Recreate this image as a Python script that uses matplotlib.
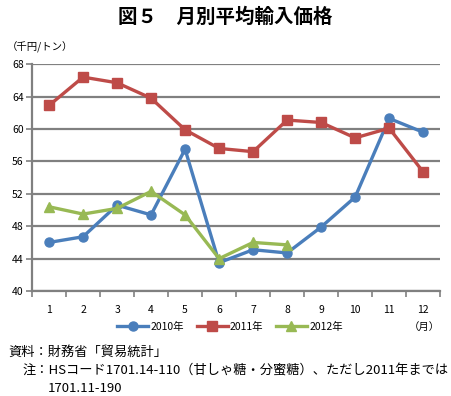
import matplotlib
matplotlib.use('Agg')
import matplotlib.pyplot as plt
import numpy as np

plt.rcParams['font.family'] = ['Noto Sans CJK JP', 'DejaVu Sans']

months = list(range(1, 13))
y2010 = [46.0, 46.7, 50.6, 49.4, 57.5, 43.5, 45.1, 44.7, 47.9, 51.6, 61.3, 59.6]
y2011 = [62.9, 66.4, 65.7, 63.8, 59.9, 57.6, 57.2, 61.1, 60.8, 58.9, 60.1, 54.7]
y2012 = [50.4, 49.5, 50.2, 52.3, 49.4, 44.0, 46.0, 45.7]
yticks = [40, 44, 48, 52, 56, 60, 64, 68]

grey = '#808080'

fig = plt.figure(figsize=(4.51, 3.96), dpi=100)
ax = fig.add_axes([0.071, 0.265, 0.905, 0.573])

ax.plot(months, y2010, color='#4A7EBB', lw=2.4, marker='o', ms=6.5, label='2010年')
ax.plot(months, y2011, color='#BE4B48', lw=2.4, marker='s', ms=6.5, label='2011年')
ax.plot(months[:len(y2012)], y2012, color='#98B954', lw=2.4, marker='^', ms=7, label='2012年')

ax.set_xlim(0.5, 12.5)
ax.set_ylim(40, 68)
ax.set_yticks(yticks)
ax.set_yticklabels([str(v) for v in yticks], fontsize=7.5)
ax.set_xticks(np.arange(0.5, 13, 1))
ax.set_xticklabels([])
ax.set_xticks(months, minor=True)
ax.set_xticklabels([str(m) for m in months], minor=True, fontsize=7.5)
ax.tick_params(axis='x', which='minor', length=0, pad=10)
ax.tick_params(axis='x', which='major', length=4, width=1.2, color=grey)
ax.tick_params(axis='y', length=4, width=1.2, color=grey, pad=2)

ax.grid(axis='y', color=grey, lw=1.6)
ax.set_axisbelow(True)
for s in ['top', 'right']:
    ax.spines[s].set_visible(False)
for s in ['left', 'bottom']:
    ax.spines[s].set_color(grey)
    ax.spines[s].set_linewidth(1.6)

fig.text(0.5, 0.957, '図５　月別平均輸入価格', ha='center', va='center', fontsize=14, fontweight='bold')
fig.text(0.015, 0.881, '（千円/トン）', ha='left', va='center', fontsize=7.5)
fig.text(0.94, 0.174, '（月）', ha='center', va='center', fontsize=7.5)

fig.legend(loc='center', bbox_to_anchor=(0.51, 0.174), ncol=3, frameon=False,
           fontsize=7.5, handlelength=3, columnspacing=1.2, handletextpad=0.2)

fig.text(0.018, 0.111, '資料：財務省「貿易統計」', ha='left', va='center', fontsize=9.5)
fig.text(0.049, 0.063, '注：HSコード1701.14-110（甘しゃ糖・分蜜糖）、ただし2011年までは',
         ha='left', va='center', fontsize=9.5)
fig.text(0.106, 0.020, '1701.11-190', ha='left', va='center', fontsize=9.5)

fig.savefig('out.png', dpi=100)
